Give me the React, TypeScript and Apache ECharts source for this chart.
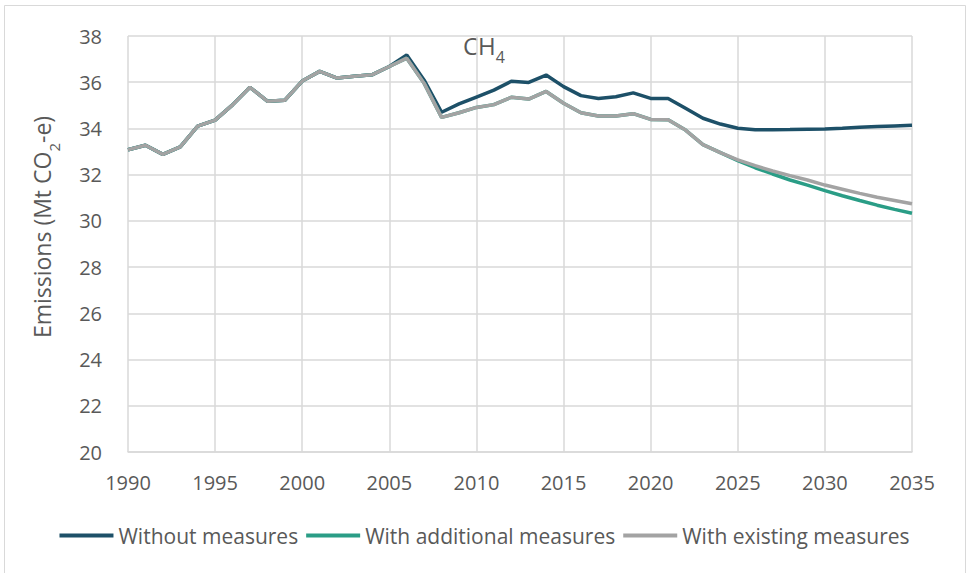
import React, { useEffect, useRef } from "react";
import * as echarts from "echarts";

const years = [
  1990, 1991, 1992, 1993, 1994, 1995, 1996, 1997, 1998, 1999,
  2000, 2001, 2002, 2003, 2004, 2005, 2006, 2007, 2008, 2009,
  2010, 2011, 2012, 2013, 2014, 2015, 2016, 2017, 2018, 2019,
  2020, 2021, 2022, 2023, 2024, 2025, 2026, 2027, 2028, 2029,
  2030, 2031, 2032, 2033, 2034, 2035,
];

const withoutMeasures = [
  33.08, 33.27, 32.88, 33.2, 34.1, 34.36, 35.02, 35.78, 35.18, 35.22,
  36.05, 36.47, 36.18, 36.26, 36.32, 36.68, 37.18, 36.09, 34.7, 35.06,
  35.36, 35.66, 36.04, 35.99, 36.31, 35.81, 35.42, 35.3, 35.37, 35.54,
  35.3, 35.3, 34.87, 34.44, 34.19, 34.01, 33.94, 33.94, 33.95, 33.97,
  33.98, 34.01, 34.05, 34.08, 34.11, 34.14,
];

const withAdditional = [
  33.08, 33.27, 32.88, 33.2, 34.1, 34.36, 35.02, 35.78, 35.18, 35.22,
  36.05, 36.47, 36.18, 36.26, 36.32, 36.68, 37.04, 35.95, 34.48, 34.68,
  34.91, 35.03, 35.35, 35.27, 35.6, 35.09, 34.68, 34.54, 34.54, 34.64,
  34.39, 34.38, 33.93, 33.3, 32.95, 32.61, 32.3, 32.03, 31.77, 31.55,
  31.31, 31.09, 30.88, 30.68, 30.5, 30.33,
];

const withExisting = [
  33.08, 33.27, 32.88, 33.2, 34.1, 34.36, 35.02, 35.78, 35.18, 35.22,
  36.05, 36.47, 36.18, 36.26, 36.32, 36.68, 37.04, 35.95, 34.48, 34.68,
  34.91, 35.03, 35.35, 35.27, 35.6, 35.09, 34.68, 34.54, 34.54, 34.64,
  34.39, 34.38, 33.93, 33.3, 32.95, 32.64, 32.39, 32.16, 31.96, 31.77,
  31.55, 31.37, 31.19, 31.02, 30.88, 30.74,
];

const seriesNames = ["Without measures", "With additional measures", "With existing measures"];
const seriesColors = ["#1d5068", "#2a9d86", "#a3a3a3"];

const FONT = "Open Sans";
const TXT = "#595959";

export default function App() {
  const ref = useRef<HTMLDivElement>(null);
  useEffect(() => {
    if (!ref.current) return;
    const chart = echarts.init(ref.current, undefined, { renderer: "svg" });
    const toPairs = (vals: number[]) => years.map((y, i) => [y, vals[i]]);
    const allData = [withoutMeasures, withAdditional, withExisting];
    chart.setOption({
      animation: false,
      backgroundColor: "#ffffff",
      grid: { left: 128, right: 57, top: 36, bottom: 121, containLabel: false, outerBoundsMode: "none" },
      xAxis: {
        type: "value",
        min: 1990,
        max: 2035,
        interval: 5,
        axisLine: { show: true, lineStyle: { color: "#d9d9d9", width: 1.5 } },
        axisTick: { show: false },
        splitLine: { show: true, lineStyle: { color: "#d9d9d9", width: 1.5 } },
        axisLabel: {
          color: TXT,
          fontFamily: FONT,
          fontSize: 20,
          margin: 20,
          formatter: (v: number) => String(v),
        },
      },
      yAxis: {
        type: "value",
        min: 20,
        max: 38,
        interval: 2,
        axisLine: { show: false },
        axisTick: { show: false },
        splitLine: { show: true, lineStyle: { color: "#d9d9d9", width: 1.5 } },
        axisLabel: { color: TXT, fontFamily: FONT, fontSize: 20, margin: 26 },
      },
      legend: {
        left: "center",
        top: 520,
        icon: "rect",
        itemWidth: 54,
        itemHeight: 4,
        itemGap: 8,
        textStyle: { color: TXT, fontFamily: FONT, fontSize: 21 },
        data: seriesNames,
      },
      graphic: [
        {
          type: "rect",
          shape: { x: 4.5, y: 5.5, width: 961, height: 620 },
          style: { fill: "none", stroke: "#d9d9d9", lineWidth: 1 },
          silent: true,
        },
        {
          type: "text",
          x: 463,
          y: 33,
          style: {
            text: "{a|CH}{b|4}",
            fill: TXT,
            rich: {
              a: { fontSize: 24, fontFamily: FONT, fill: TXT, lineHeight: 32, verticalAlign: "top" },
              b: { fontSize: 16, fontFamily: FONT, fill: TXT, lineHeight: 16, verticalAlign: "bottom" },
            },
          },
        },
        {
          type: "text",
          x: 46,
          y: 227,
          rotation: Math.PI / 2,
          style: {
            text: "{a|Emissions (Mt CO}{b|2}{a|-e)}",
            align: "center",
            verticalAlign: "middle",
            fill: TXT,
            rich: {
              a: { fontSize: 23, fontFamily: FONT, fill: TXT, lineHeight: 31, verticalAlign: "top" },
              b: { fontSize: 15, fontFamily: FONT, fill: TXT, lineHeight: 15, verticalAlign: "bottom" },
            },
          },
        },
      ],
      series: seriesNames.map((name, i) => ({
        name,
        type: "line",
        data: toPairs(allData[i]),
        symbol: "none",
        lineStyle: { color: seriesColors[i], width: 3.5 },
        itemStyle: { color: seriesColors[i] },
        z: 2 + i,
      })),
    });
    return () => chart.dispose();
  }, []);
  return (
    <div
      ref={ref}
      style={{ position: "fixed", left: 0, top: 0, width: 969, height: 573, background: "#fff" }}
    />
  );
}
